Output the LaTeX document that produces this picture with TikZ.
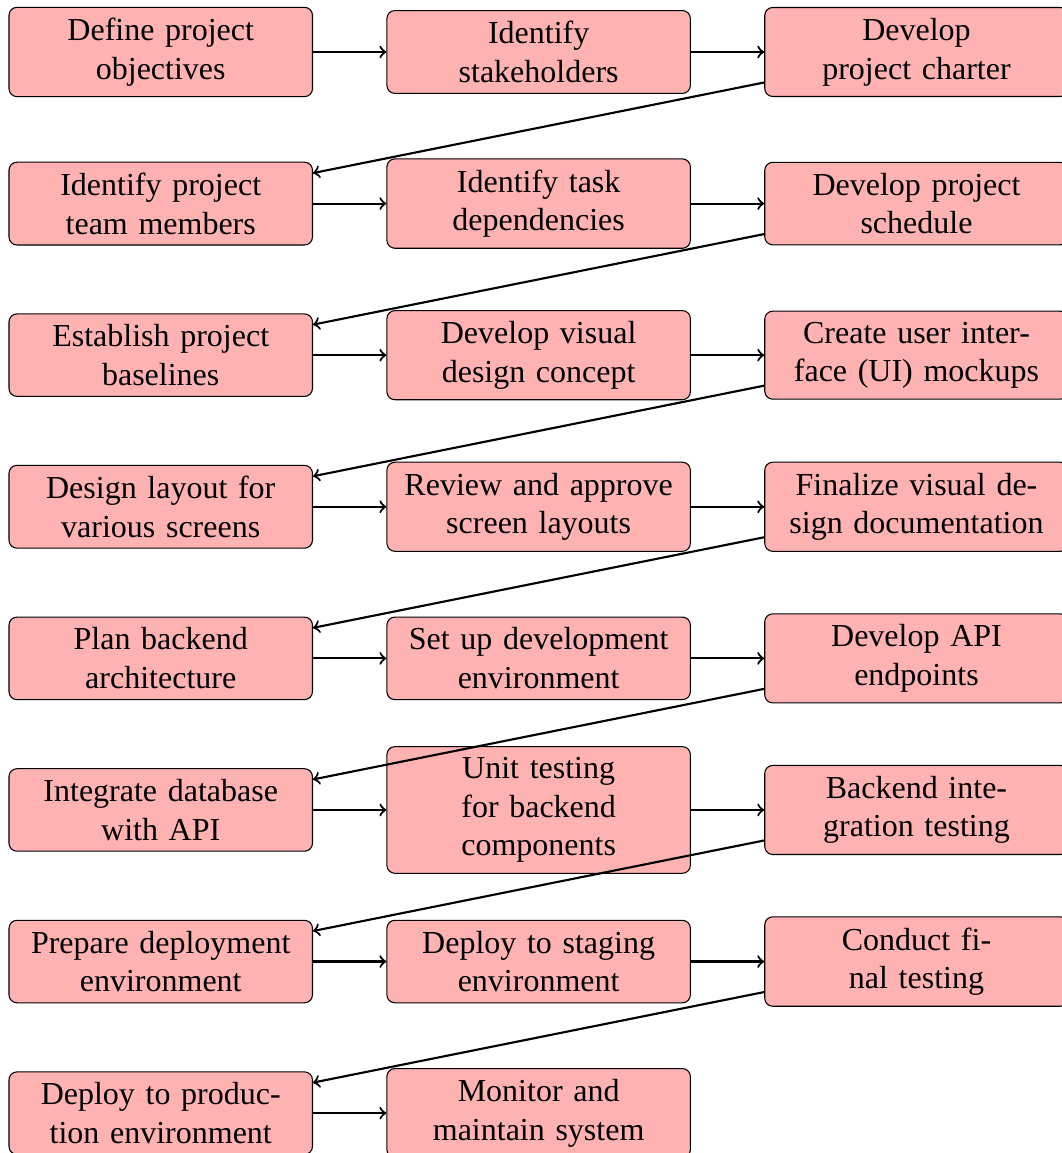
\documentclass[tikz,border=0pt]{standalone}
\usepackage{fontspec}
\setmainfont{Liberation Serif}
\begin{document}
\begin{tikzpicture}[
  task/.style={draw=black, rounded corners=3pt, fill=red!30, text width=3.7cm,
    align=center, minimum width=4cm, inner sep=4pt,
    font=\fontsize{12}{14.5}\selectfont},
  flow/.style={->, thick}
]
\useasboundingbox (0,0) rectangle (398.25pt,-432.4pt);
% columns: 60.28pt, 202.0pt, 343.7pt ; rows: 19.5pt + k*56.85pt
\node[task] (a1) at (60.28pt,-19.5pt) {Define project\\objectives};
\node[task] (a2) at (202.0pt,-19.5pt) {Identify\\stakeholders};
\node[task] (a3) at (343.7pt,-19.5pt) {Develop\\project charter};

\node[task] (b1) at (60.28pt,-76.35pt) {Identify project\\team members};
\node[task] (b2) at (202.0pt,-76.35pt) {Identify task\\dependencies};
\node[task] (b3) at (343.7pt,-76.35pt) {Develop project\\schedule};

\node[task] (c1) at (60.28pt,-133.2pt) {Establish project\\baselines};
\node[task] (c2) at (202.0pt,-133.2pt) {Develop visual\\design concept};
\node[task] (c3) at (343.7pt,-133.2pt) {Create user inter-\\face (UI) mockups};

\node[task] (d1) at (60.28pt,-190.05pt) {Design layout for\\various screens};
\node[task] (d2) at (202.0pt,-190.05pt) {Review and approve\\screen layouts};
\node[task] (d3) at (343.7pt,-190.05pt) {Finalize visual de-\\sign documentation};

\node[task] (e1) at (60.28pt,-246.9pt) {Plan backend\\architecture};
\node[task] (e2) at (202.0pt,-246.9pt) {Set up development\\environment};
\node[task] (e3) at (343.7pt,-246.9pt) {Develop API\\endpoints};

\node[task] (f1) at (60.28pt,-303.75pt) {Integrate database\\with API};
\node[task] (f2) at (202.0pt,-303.75pt) {Unit testing\\for backend\\components};
\node[task] (f3) at (343.7pt,-303.75pt) {Backend inte-\\gration testing};

\node[task] (g1) at (60.28pt,-360.6pt) {Prepare deployment\\environment};
\node[task] (g2) at (202.0pt,-360.6pt) {Deploy to staging\\environment};
\node[task] (g3) at (343.7pt,-360.6pt) {Conduct fi-\\nal testing};

\node[task] (h1) at (60.28pt,-417.45pt) {Deploy to produc-\\tion environment};
\node[task] (h2) at (202.0pt,-417.45pt) {Monitor and\\maintain system};

\draw[flow] (a1) -- (a2);
\draw[flow] (a2) -- (a3);
\draw[flow] (a3) -- (b1);
\draw[flow] (b1) -- (b2);
\draw[flow] (b2) -- (b3);
\draw[flow] (b3) -- (c1);
\draw[flow] (c1) -- (c2);
\draw[flow] (c2) -- (c3);
\draw[flow] (c3) -- (d1);
\draw[flow] (d1) -- (d2);
\draw[flow] (d2) -- (d3);
\draw[flow] (d3) -- (e1);
\draw[flow] (e1) -- (e2);
\draw[flow] (e2) -- (e3);
\draw[flow] (e3) -- (f1);
\draw[flow] (f1) -- (f2);
\draw[flow] (f2) -- (f3);
\draw[flow] (f3) -- (g1);
\draw[flow] (g1) -- (g2);
\draw[flow] (g2) -- (g3);
\draw[flow] (g3) -- (h1);
\draw[flow] (h1) -- (h2);
\end{tikzpicture}
\end{document}
